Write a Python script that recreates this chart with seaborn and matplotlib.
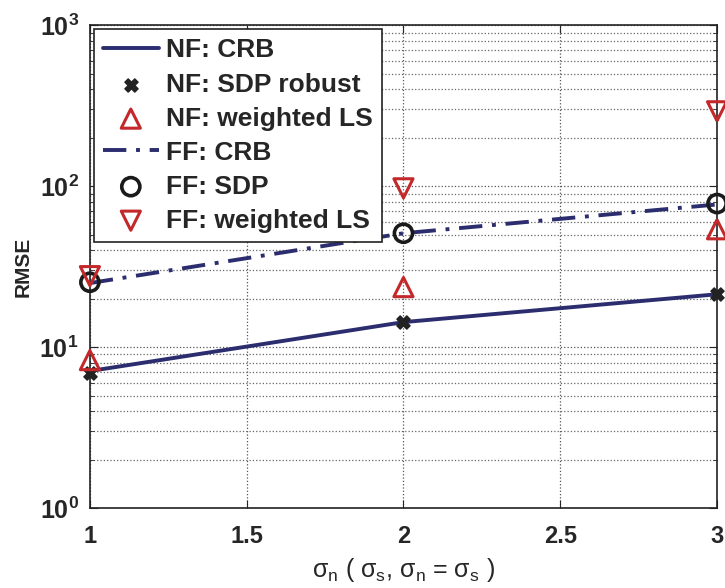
import numpy as np
import pandas as pd
import matplotlib
matplotlib.use('Agg')
import matplotlib.pyplot as plt
import seaborn as sns

# values
sigma = [1, 2, 3]
nf_crb = [7.1, 14.3, 21.3]
nf_sdp_robust = [6.9, 14.3, 21.3]
nf_wls = [8.3, 23.6, 54.0]
ff_crb = [25.0, 51.0, 77.0]
ff_sdp = [25.3, 51.0, 78.0]
ff_wls = [27.6, 97.0, 292.0]

x_ticks = [1, 1.5, 2, 2.5, 3]
x_tick_labels = ['1', '1.5', '2', '2.5', '3']

sns.set_style('ticks')
plt.rcParams['font.family'] = ['Liberation Sans', 'DejaVu Sans']
plt.rcParams['font.weight'] = 'bold'
plt.rcParams['mathtext.default'] = 'regular'

navy = '#2b2d6e'
red = '#c3282b'

fig = plt.figure(figsize=(7.25, 5.88), dpi=100)
ax = fig.add_axes([0.124, 0.136, 0.865, 0.821])

sns.lineplot(x=sigma, y=nf_crb, ax=ax, color=navy, lw=2.8, label='NF: CRB')
sns.scatterplot(x=sigma, y=nf_sdp_robust, ax=ax, marker='X', s=90, color='#222222',
                edgecolor='#222222', lw=1, label='NF: SDP robust', zorder=4, clip_on=False)
sns.scatterplot(x=sigma, y=nf_wls, ax=ax, marker='^', s=190, facecolor='none',
                edgecolor=red, lw=2.2, label='NF: weighted LS', zorder=4, clip_on=False)
sns.lineplot(x=sigma, y=ff_crb, ax=ax, color=navy, lw=2.8, label='FF: CRB')
ax.lines[-1].set_linestyle((0, (6, 2.5, 1, 2.5)))
sns.scatterplot(x=sigma, y=ff_sdp, ax=ax, marker='o', s=170, facecolor='none',
                edgecolor='#1a1a1a', lw=2.6, label='FF: SDP', zorder=4, clip_on=False)
sns.scatterplot(x=sigma, y=ff_wls, ax=ax, marker='v', s=190, facecolor='none',
                edgecolor=red, lw=2.2, label='FF: weighted LS', zorder=4, clip_on=False)

ax.set_yscale('log')
ax.set_ylim(1, 1000)
ax.set_xlim(1, 3)
ax.set_xticks(x_ticks)
ax.set_xticklabels(x_tick_labels)
ax.grid(True, which='major', ls=':', color='#555555', lw=0.9)
ax.grid(True, which='minor', axis='y', ls=':', color='#666666', lw=0.9)
ax.tick_params(axis='both', which='major', labelsize=17, direction='in', length=6,
               top=True, right=True)
ax.tick_params(axis='x', which='major', pad=12)
ax.tick_params(axis='y', which='major', pad=8, labelsize=18)
ax.tick_params(axis='y', which='minor', direction='in', length=3, right=True)
for lab in ax.get_xticklabels() + ax.get_yticklabels():
    lab.set_fontweight('bold')
for sp in ax.spines.values():
    sp.set_visible(True)
    sp.set_linewidth(1.2)
    sp.set_color('#222222')

ax.set_ylabel('RMSE', fontsize=15, fontweight='bold', labelpad=5)
ax.set_xlabel(r'$\sigma_n$ ( $\sigma_s$, $\sigma_n$ = $\sigma_s$ )', fontsize=18,
              fontweight='normal', labelpad=6)

handles, labels = ax.get_legend_handles_labels()
order = ['NF: CRB', 'NF: SDP robust', 'NF: weighted LS', 'FF: CRB', 'FF: SDP', 'FF: weighted LS']
hmap = dict(zip(labels, handles))
leg = ax.legend([hmap[k] for k in order], order, loc='upper left',
                frameon=True, fancybox=False, framealpha=1, edgecolor='#222222',
                borderaxespad=0.15, handlelength=2.1, labelspacing=0.38, handletextpad=0.3,
                borderpad=0.35, prop={'weight': 'bold', 'size': 19})
leg.get_frame().set_linewidth(1.2)

fig.savefig('out.png', dpi=100)
